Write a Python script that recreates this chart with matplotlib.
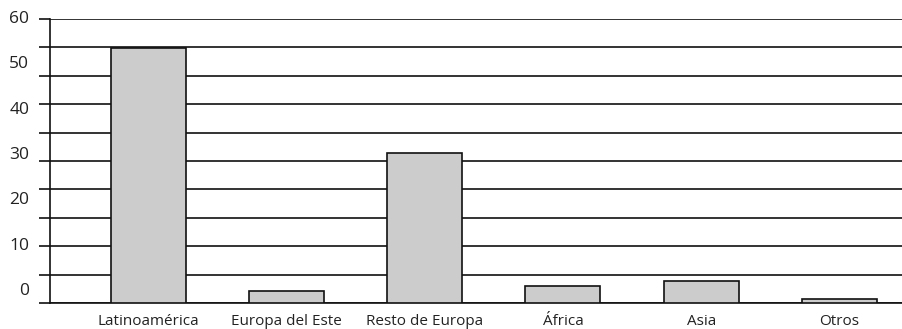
import matplotlib
matplotlib.use("Agg")
import matplotlib.pyplot as plt
import numpy as np

categories = ["Latinoamérica", "Europa del Este", "Resto de Europa", "África", "Asia", "Otros"]
values = [53.8, 2.5, 31.7, 3.5, 4.6, 0.8]
ytick_labels = ["60", "50", "40", "30", "20", "10", "0"]

plt.rcParams['font.family'] = ['Open Sans', 'DejaVu Sans']

fig = plt.figure(figsize=(9.03, 3.29), dpi=100)
W, H = 903, 329
ax = fig.add_axes([50 / W, 26 / H, 853 / W, 284 / H])

x = np.arange(len(categories))
ax.bar(x, values, width=0.542, color="#cccccc", edgecolor="#111111", linewidth=1.2, zorder=3)

ax.set_xlim(-0.709, 5.459)
ax.set_ylim(0, 60)
ax.set_yticks(np.arange(0, 61, 6))
ax.set_yticklabels([])
ax.yaxis.grid(True, color="#111111", linewidth=1.2, zorder=0)
ax.set_axisbelow(True)
ax.tick_params(axis="y", length=8, width=1.2, color="#111111", direction="out")
ax.tick_params(axis="x", length=0, pad=8, labelsize=11, labelcolor="#222222")
ax.set_xticks(x)
ax.set_xticklabels(categories)

for s in ["top", "right"]:
    ax.spines[s].set_visible(False)
for s in ["left", "bottom"]:
    ax.spines[s].set_color("#111111")
    ax.spines[s].set_linewidth(1.2)

# y labels placed evenly as in the reference
label_pos = np.linspace(60, 2.5, len(ytick_labels))
for lab, yv in zip(ytick_labels, label_pos):
    ax.text(-0.709 - 0.15, yv, lab, ha="right", va="center", fontsize=12.5,
            color="#222222", transform=ax.transData, clip_on=False)

fig.savefig("out.png", dpi=100)
